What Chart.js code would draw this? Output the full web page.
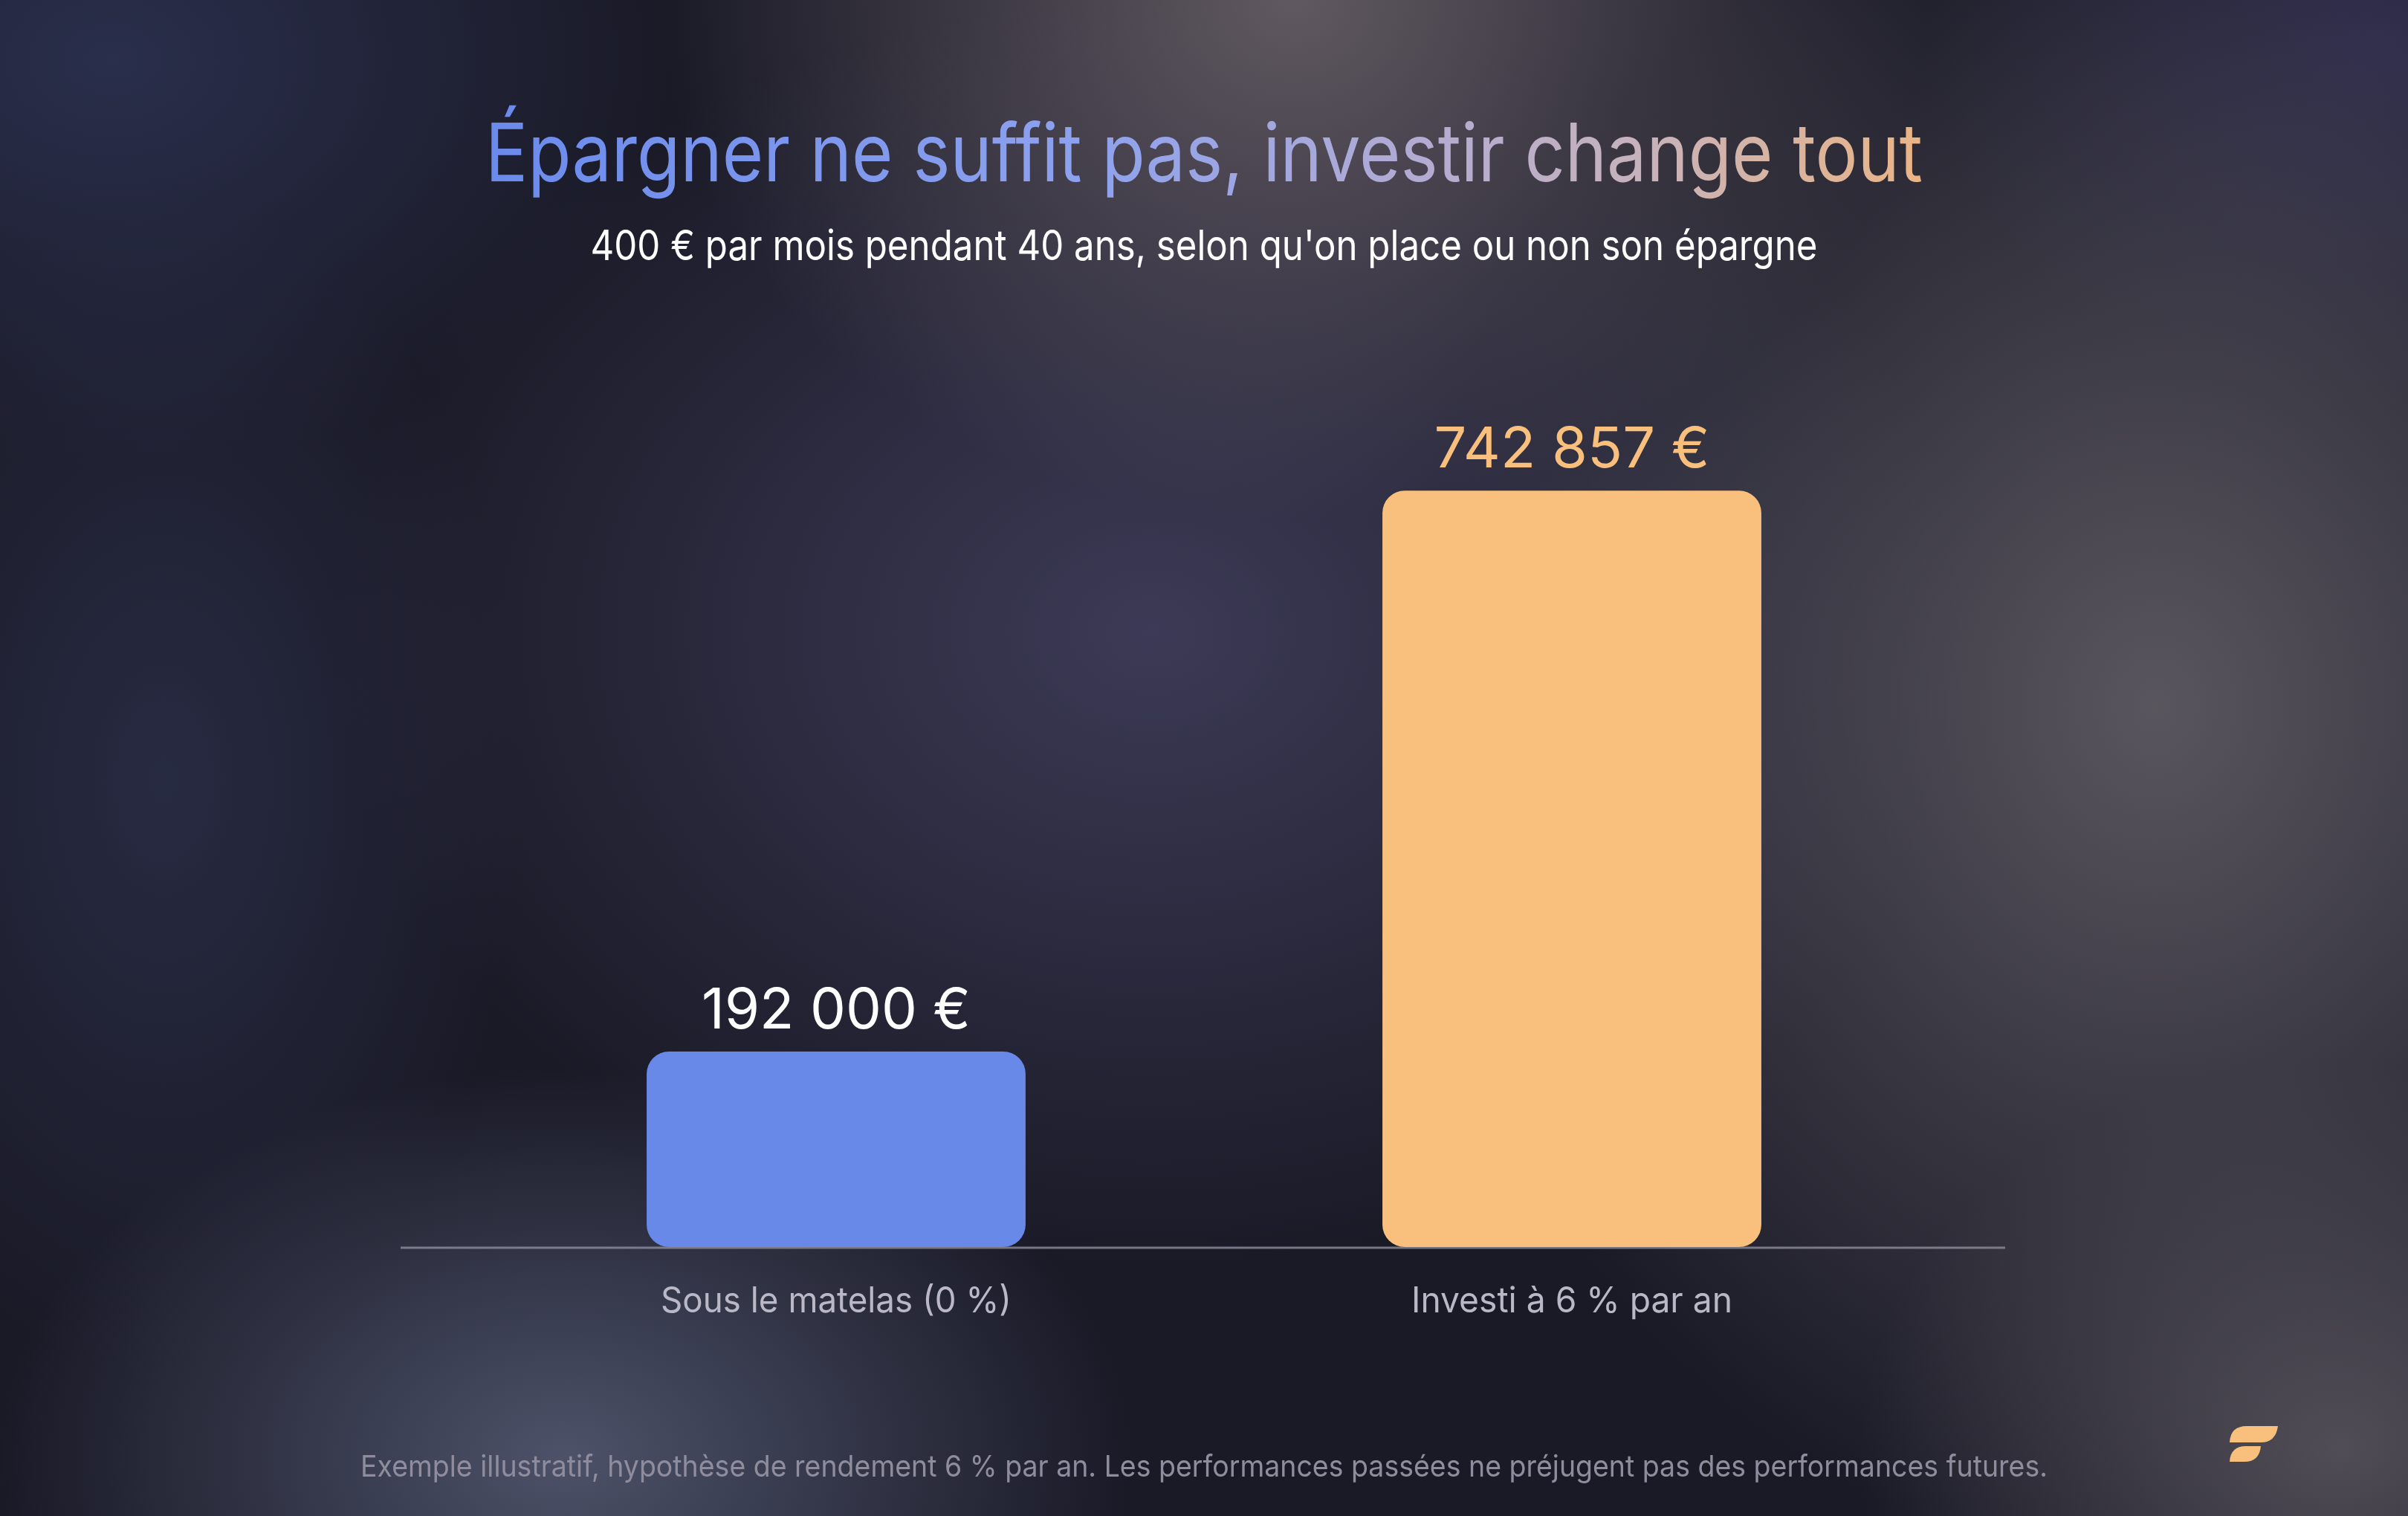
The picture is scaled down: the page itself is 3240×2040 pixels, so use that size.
<!DOCTYPE html>
<html>
<head>
<meta charset="utf-8">
<script src="https://cdn.jsdelivr.net/npm/chart.js@4.4.1/dist/chart.umd.min.js"></script>
<style>
  html, body { margin: 0; padding: 0; }
  body {
    width: 3240px; height: 2040px; overflow: hidden;
    background:
      radial-gradient(ellipse 850px 700px at 1740px 0px, rgba(100,92,100,0.95), rgba(100,92,100,0) 100%),
      radial-gradient(ellipse 1000px 1150px at 2900px 950px, rgba(96,92,100,0.9), rgba(96,92,100,0) 100%),
      radial-gradient(ellipse 650px 520px at 3150px 1950px, rgba(92,88,96,0.8), rgba(92,88,96,0) 100%),
      radial-gradient(ellipse 760px 520px at 760px 1960px, rgba(82,88,112,0.9), rgba(82,88,112,0) 100%),
      radial-gradient(ellipse 1100px 850px at 1550px 850px, rgba(66,64,94,0.85), rgba(66,64,94,0) 100%),
      radial-gradient(ellipse 480px 800px at 220px 1050px, rgba(50,56,88,0.55), rgba(50,56,88,0) 100%),
      radial-gradient(ellipse 750px 550px at 150px 80px, rgba(44,50,82,0.85), rgba(44,50,82,0) 100%),
      radial-gradient(ellipse 600px 500px at 3200px 60px, rgba(46,44,82,0.8), rgba(46,44,82,0) 100%),
      #1a1a27;
  }
  #wrap { position: absolute; left: 0; top: 0; width: 3240px; height: 2040px; }
</style>
</head>
<body>
<div id="wrap"><canvas id="myChart"></canvas></div>
<script>
var categories = ["Sous le matelas (0 %)", "Investi à 6 % par an"];
var values = [192000, 742857];
var valueLabels = ["192 000 €", "742 857 €"];
var barColors = ["#6889e8", "#f9bf7d"];
var valueLabelColors = ["#ffffff", "#f9bf7c"];

var title = "Épargner ne suffit pas, investir change tout";
var subtitle = "400 € par mois pendant 40 ans, selon qu'on place ou non son épargne";
var footnote = "Exemple illustratif, hypothèse de rendement 6 % par an. Les performances passées ne préjugent pas des performances futures.";

var FONT = "Inter";

// draw text centred on cx, squeezed to the width measured on the picture
function fitText(ctx, text, cx, baseline, width, size, fill) {
  ctx.save();
  ctx.font = "400 " + size + "px " + FONT;
  var w = ctx.measureText(text).width;
  ctx.translate(cx, baseline);
  ctx.scale(width / w, 1);
  ctx.textAlign = "center";
  ctx.textBaseline = "alphabetic";
  if (typeof fill === "function") fill = fill(ctx, w);
  ctx.fillStyle = fill;
  ctx.fillText(text, 0, 0);
  ctx.restore();
}

var decor = {
  id: "decor",
  beforeDatasetsDraw: function(chart) {
    var ctx = chart.ctx;
    var area = chart.chartArea;
    // baseline, a bit wider than the plot area
    ctx.save();
    ctx.strokeStyle = "rgba(150,148,162,0.75)";
    ctx.lineWidth = 3;
    ctx.beginPath();
    ctx.moveTo(area.left - 91, area.bottom + 1);
    ctx.lineTo(area.right + 88, area.bottom + 1);
    ctx.stroke();
    ctx.restore();
  },
  afterDatasetsDraw: function(chart) {
    var ctx = chart.ctx;
    var bars = chart.getDatasetMeta(0).data;
    var cx = chart.width / 2;

    fitText(ctx, title, cx, 244, 1934, 108, function(c, w) {
      var g = c.createLinearGradient(-w / 2, 0, w / 2, 0);
      g.addColorStop(0, "#6a8aec");
      g.addColorStop(0.42, "#8ea2ee");
      g.addColorStop(0.62, "#aeaad6");
      g.addColorStop(0.8, "#c6b2bc");
      g.addColorStop(1, "#eab586");
      return g;
    });
    fitText(ctx, subtitle, cx, 350, 1651, 56, "#ffffff");

    var labelWidths = [362, 371];
    var catWidths = [472, 432];
    bars.forEach(function(bar, i) {
      fitText(ctx, valueLabels[i], bar.x, bar.y - 31, labelWidths[i], 76, valueLabelColors[i]);
      fitText(ctx, categories[i], bar.x, chart.chartArea.bottom + 88, catWidths[i], 48, "#bab7c7");
    });

    fitText(ctx, footnote, cx, 1987, 2270, 40, "#8f8d9d");

    // logo
    ctx.save();
    ctx.fillStyle = "#f9bf7c";
    ctx.translate(2960, 1880);
    ctx.beginPath();
    ctx.moveTo(40, 61);
    ctx.quadraticCurveTo(41, 39, 63, 39);
    ctx.lineTo(105, 39);
    ctx.quadraticCurveTo(102, 61, 82, 61);
    ctx.closePath();
    ctx.fill();
    ctx.beginPath();
    ctx.moveTo(40, 87);
    ctx.quadraticCurveTo(41, 66, 62, 66);
    ctx.lineTo(82, 66);
    ctx.quadraticCurveTo(80, 87, 60, 87);
    ctx.closePath();
    ctx.fill();
    ctx.restore();
  }
};

var ctx = document.getElementById("myChart").getContext("2d");
var myChart = new Chart(ctx, {
  type: "bar",
  data: {
    labels: categories,
    datasets: [{
      data: values,
      backgroundColor: barColors,
      borderRadius: 30,
      borderSkipped: false,
      categoryPercentage: 1,
      barPercentage: 0.515
    }]
  },
  options: {
    responsive: true,
    maintainAspectRatio: false,
    devicePixelRatio: 1,
    animation: false,
    layout: { padding: { left: 630, right: 630, top: 582, bottom: 362 } },
    plugins: {
      legend: { display: false },
      tooltip: { enabled: false }
    },
    scales: {
      x: { display: false },
      y: { display: false, min: 0, max: 800000 }
    }
  },
  plugins: [decor]
});
</script>
</body>
</html>
